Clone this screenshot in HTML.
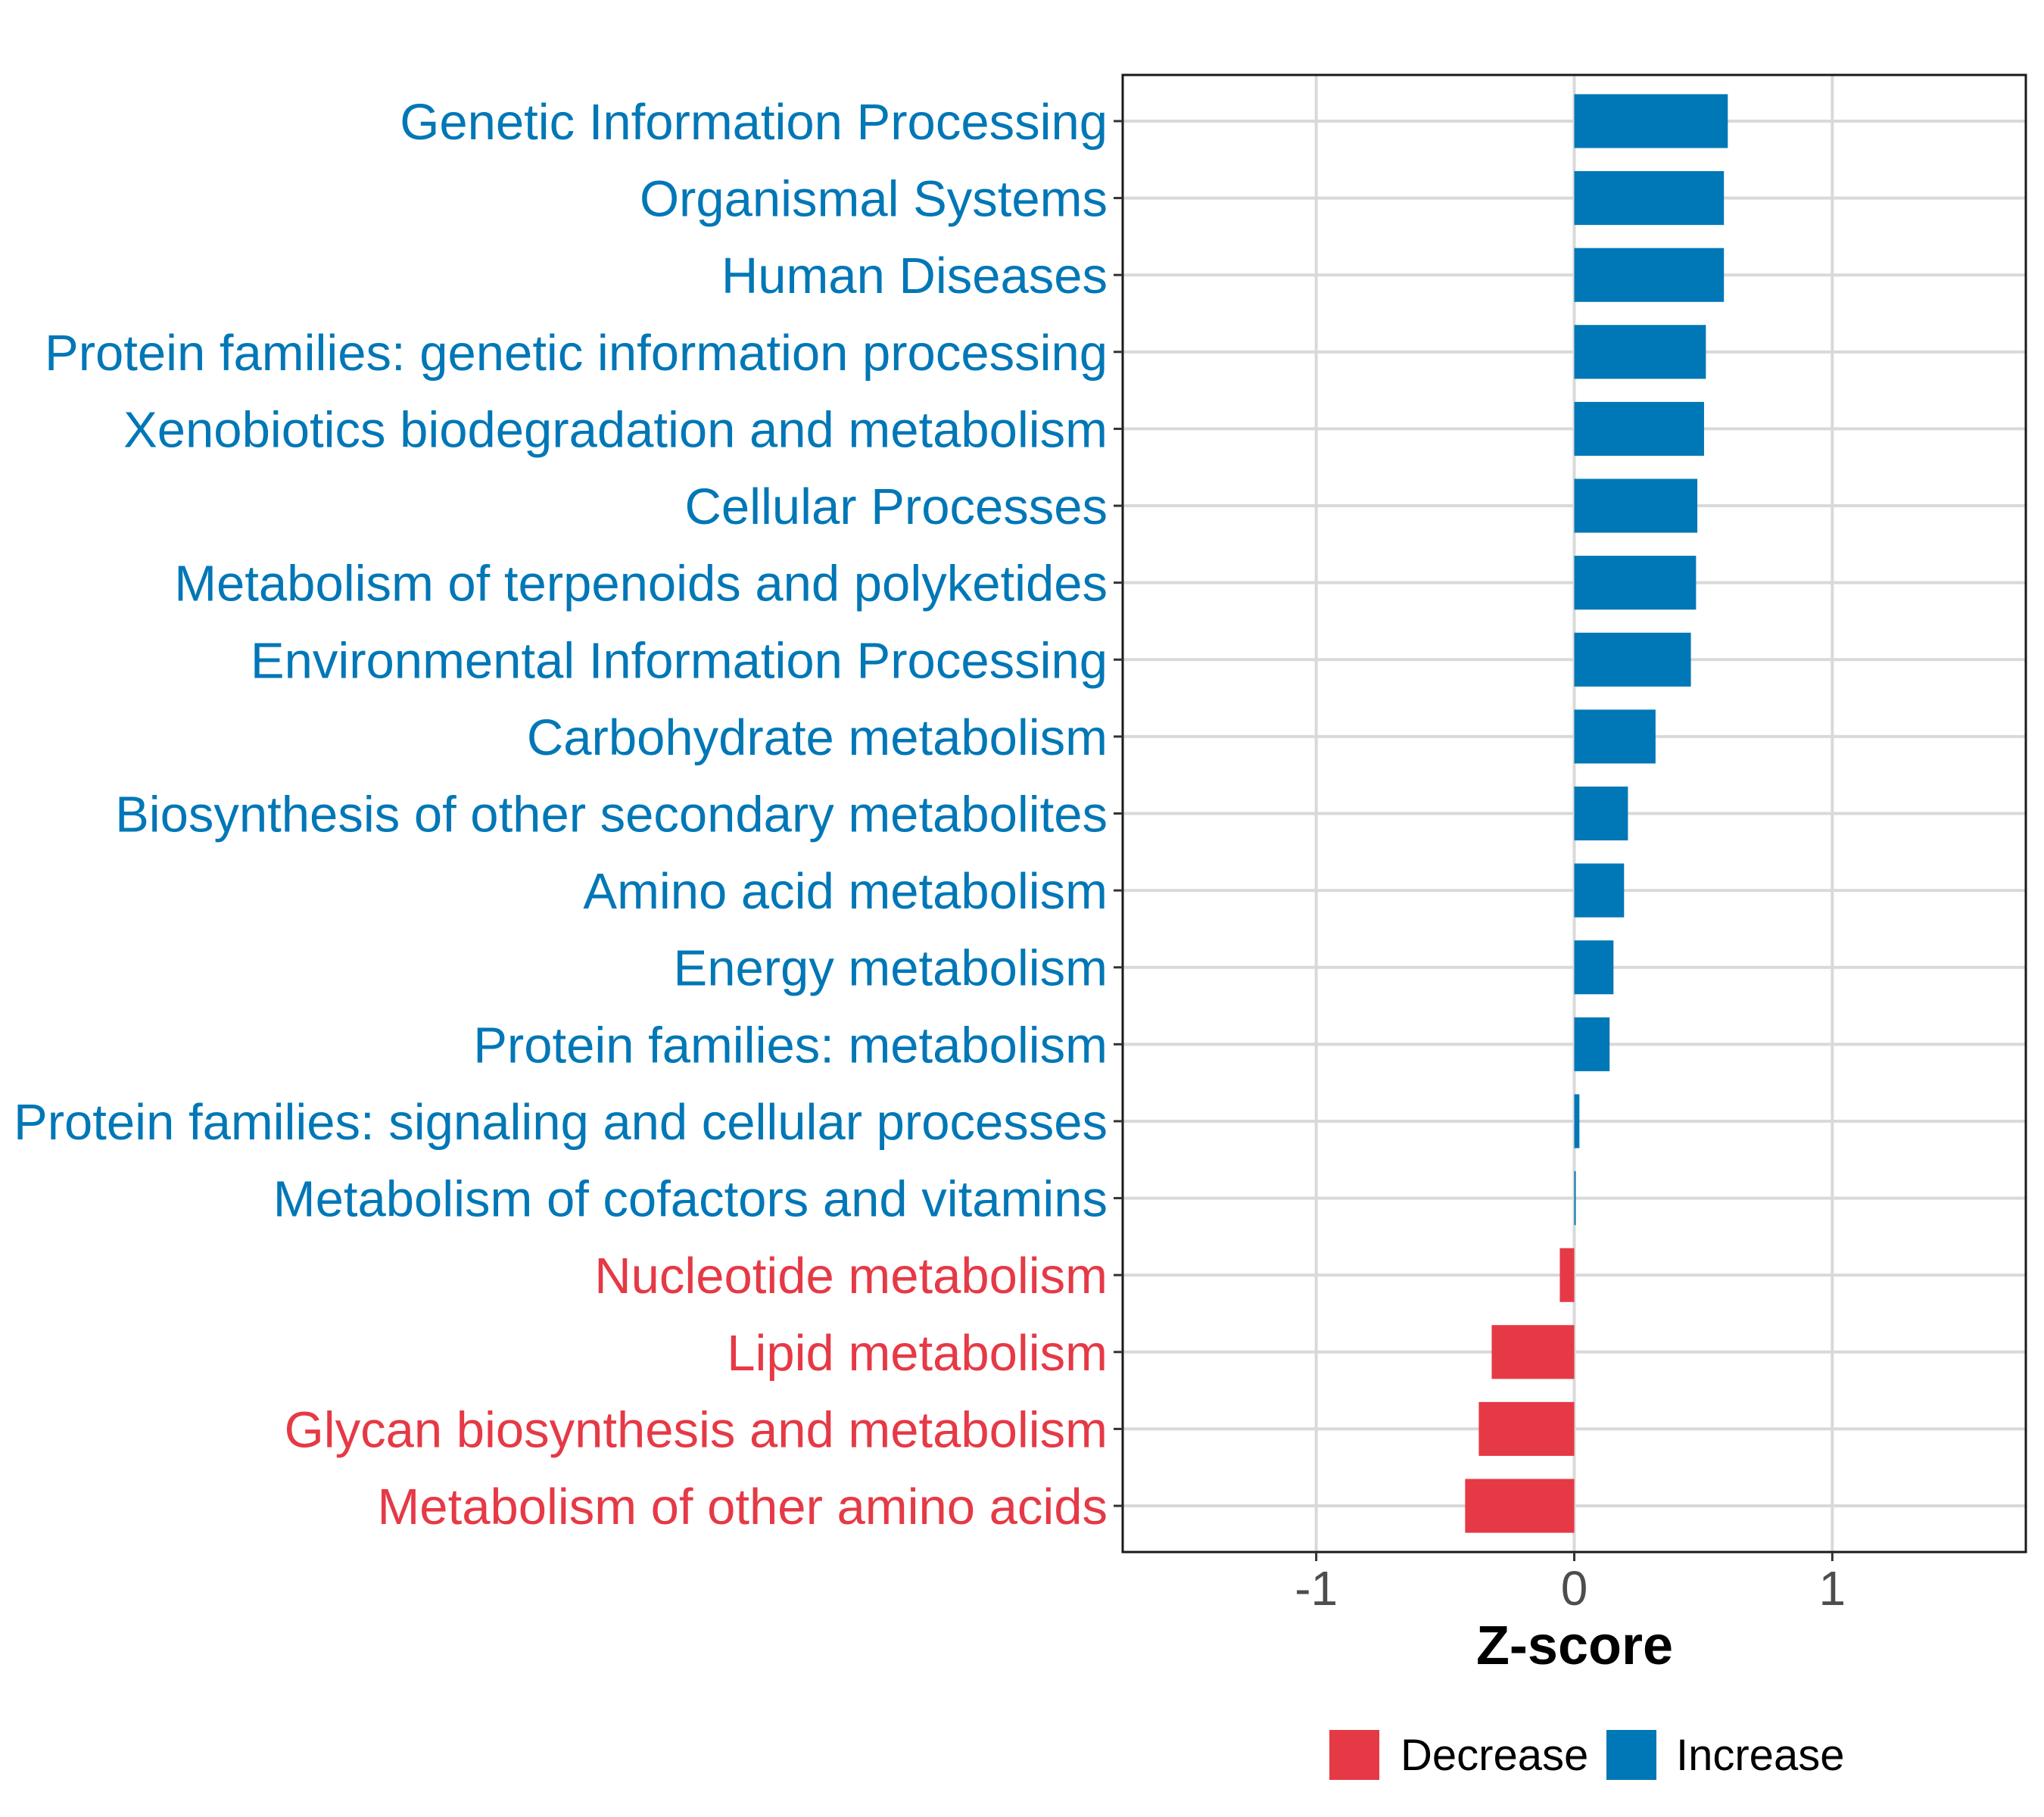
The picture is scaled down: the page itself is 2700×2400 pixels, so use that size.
<!DOCTYPE html>
<html><head><meta charset="utf-8"><style>
html,body{margin:0;padding:0;background:#fff;}
svg{display:block;}
text{font-family:"Liberation Sans",Arial,sans-serif;}
</style></head><body>
<svg id="chart" width="2700" height="2400" xmlns="http://www.w3.org/2000/svg">
<rect width="2700" height="2400" fill="#fff"/>
<g id="grid"></g>
<g id="bars"></g>
<rect x="1483" y="99" width="1193" height="1951" fill="none" stroke="#1a1a1a" stroke-width="3"/>
<g id="yaxis"></g>
<g id="xaxis"></g>
<text x="2080" y="2198" font-size="72" font-weight="bold" text-anchor="middle" fill="#000">Z-score</text>
<g>
<rect x="1756" y="2285" width="66" height="66" fill="#E63946"/>
<text x="1850" y="2338" font-size="58" fill="#000">Decrease</text>
<rect x="2122" y="2285" width="66" height="66" fill="#0077B6"/>
<text x="2214" y="2338" font-size="58" fill="#000">Increase</text>
</g>
</svg>
<script>
const categories = ["Genetic Information Processing","Organismal Systems","Human Diseases","Protein families: genetic information processing","Xenobiotics biodegradation and metabolism","Cellular Processes","Metabolism of terpenoids and polyketides","Environmental Information Processing","Carbohydrate metabolism","Biosynthesis of other secondary metabolites","Amino acid metabolism","Energy metabolism","Protein families: metabolism","Protein families: signaling and cellular processes","Metabolism of cofactors and vitamins","Nucleotide metabolism","Lipid metabolism","Glycan biosynthesis and metabolism","Metabolism of other amino acids"];
const values = [0.595,0.58,0.58,0.51,0.503,0.477,0.472,0.452,0.315,0.208,0.193,0.152,0.137,0.02,0.006,-0.056,-0.32,-0.37,-0.423];
const xTicks = [-1,0,1];
const xTickLabels = ["-1","0","1"];
const SVGNS="http://www.w3.org/2000/svg";
const pLeft=1483,pRight=2676,pTop=99,pBottom=2050,xMin=-1.75,xMax=1.75;
function xScale(v){return pLeft+(v-xMin)/(xMax-xMin)*(pRight-pLeft);}
const nCat=categories.length;
const rowStep=(pBottom-pTop)/(nCat-1+1.2);
function yScale(i){return pTop+rowStep*(0.6+i);}
function mk(tag,attrs,parent){const e=document.createElementNS(SVGNS,tag);for(const k in attrs)e.setAttribute(k,attrs[k]);parent.appendChild(e);return e;}
const gGrid=document.getElementById('grid'),gBars=document.getElementById('bars'),gY=document.getElementById('yaxis'),gX=document.getElementById('xaxis');
xTicks.forEach(function(t,i){
  const l=mk('line',{x1:xScale(t),x2:xScale(t),y1:pTop,y2:pBottom,stroke:'#d9d9d9','stroke-width':4},gGrid);
  
  
  const tk=mk('line',{x1:xScale(t),x2:xScale(t),y1:pBottom,y2:pBottom+12,stroke:'#333','stroke-width':3},gX);
  
  
  const tx=mk('text',{x:xScale(t),y:pBottom+70,'font-size':64,'text-anchor':'middle',fill:'#4d4d4d'},gX);
  tx.textContent=xTickLabels[i];
  
  
});
categories.forEach(function(c,i){
  const l=mk('line',{x1:pLeft,x2:pRight,y1:yScale(i),y2:yScale(i),stroke:'#d9d9d9','stroke-width':4},gGrid);
  
  
  const v=values[i],col=v<0?'#E63946':'#0077B6';
  const h=rowStep*0.7;
  const r=mk('rect',{x:Math.min(xScale(0),xScale(v)),y:yScale(i)-h/2,width:Math.abs(xScale(v)-xScale(0)),height:h,fill:col},gBars);
  
  
  const tk=mk('line',{x1:pLeft-12,x2:pLeft,y1:yScale(i),y2:yScale(i),stroke:'#333','stroke-width':3},gY);
  
  
  const tx=mk('text',{x:1463,y:yScale(i)+24,'font-size':67,'text-anchor':'end',fill:col},gY);
  tx.textContent=c;
  
  
});
</script>
</body></html>
